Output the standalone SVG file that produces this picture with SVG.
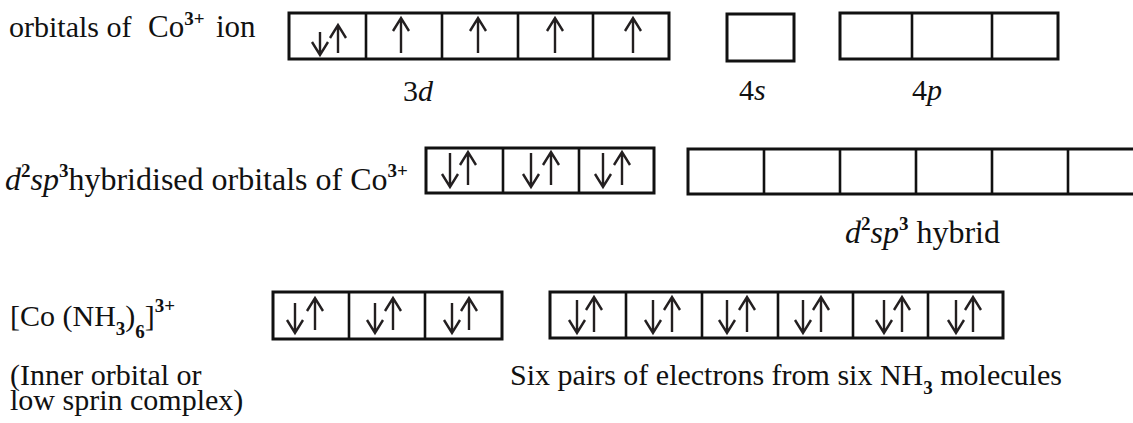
<svg xmlns="http://www.w3.org/2000/svg" width="1133" height="423" viewBox="0 0 1133 423">
<style>
.t{font-family:"Liberation Serif","Times New Roman",serif;font-size:30px;fill:#111}
.big{font-size:32px}
.i{font-style:italic}
.sup{font-size:19px;font-weight:bold}
.box{fill:none;stroke:#111;stroke-width:3}
.div{stroke:#111;stroke-width:2.6}
.arr{fill:none;stroke:#231f20;stroke-width:2.4;stroke-linejoin:miter;stroke-linecap:butt}
</style>
<rect width="1133" height="423" fill="#fff"/>

<g id="row1-label">
<text class="t" x="9" y="37" font-size="31">orbitals of</text>
<text class="t" x="148" y="37" style="font-size:31px">Co<tspan class="sup" dy="-12">3+</tspan></text>
<text class="t" x="216" y="37" style="font-size:31px">ion</text>
</g>

<g id="row1-3d">
<rect class="box" x="289" y="13" width="380" height="46"/>
<path class="div" d="M366,13V59M442,13V59M518,13V59M593,13V59"/>
<path class="arr" d="M320,32V54M312,42L320,55L328,42"/>
<path class="arr" d="M338,53V26M330,38L338,25L346,38"/>
<path class="arr" d="M401,53V19M393,31L401,18L409,31"/>
<path class="arr" d="M478,53V19M470,31L478,18L486,31"/>
<path class="arr" d="M555,53V19M547,31L555,18L563,31"/>
<path class="arr" d="M633,53V19M625,31L633,18L641,31"/>
<text class="t" x="403" y="101">3<tspan class="i">d</tspan></text>
</g>

<g id="row1-4s">
<rect class="box" x="727" y="14" width="67" height="47"/>
<text class="t" x="739" y="100">4<tspan class="i">s</tspan></text>
</g>

<g id="row1-4p">
<rect class="box" x="840" y="13" width="218" height="46"/>
<path class="div" d="M912,13V59M992,13V59"/>
<text class="t" x="912" y="100">4<tspan class="i">p</tspan></text>
</g>

<g id="row2-label">
<text class="t big" x="5" y="190"><tspan class="i">d</tspan><tspan class="sup" dy="-13">2</tspan><tspan class="i" dy="13">sp</tspan><tspan class="sup" dy="-13">3</tspan><tspan dy="13">hybridised orbitals of Co</tspan><tspan class="sup" dy="-13">3+</tspan></text>
</g>

<g id="row2-d">
<rect class="box" x="426" y="148" width="228" height="45"/>
<path class="div" d="M503,148V193M579,148V193"/>
<path class="arr" d="M450,153V186M442,174L450,187L458,174"/>
<path class="arr" d="M468,185V153M460,165L468,152L476,165"/>
<path class="arr" d="M531,153V186M523,174L531,187L539,174"/>
<path class="arr" d="M551,185V153M543,165L551,152L559,165"/>
<path class="arr" d="M603,153V186M595,174L603,187L611,174"/>
<path class="arr" d="M622,185V153M614,165L622,152L630,165"/>
</g>

<g id="row2-hybrid">
<rect class="box" x="688" y="149" width="460" height="45"/>
<path class="div" d="M764,149V194M840,149V194M916,149V194M992,149V194M1068,149V194"/>
<text class="t big" x="845" y="243"><tspan class="i">d</tspan><tspan class="sup" dy="-13">2</tspan><tspan class="i" dy="13">sp</tspan><tspan class="sup" dy="-13">3</tspan><tspan dy="13"> hybrid</tspan></text>
</g>

<g id="row3-label">
<text class="t" x="10" y="326">[Co (NH<tspan class="sup" dy="9">3</tspan><tspan dy="-9">)</tspan><tspan class="sup" dy="12">6</tspan><tspan dy="-12">]</tspan><tspan class="sup" dy="-14">3+</tspan></text>
</g>

<g id="row3-metal">
<rect class="box" x="273" y="292" width="229" height="47"/>
<path class="div" d="M349,292V339M425,292V339"/>
<path class="arr" d="M295,303V332M287,320L295,333L303,320"/>
<path class="arr" d="M315,330V299M307,311L315,298L323,311"/>
<path class="arr" d="M375,303V332M367,320L375,333L383,320"/>
<path class="arr" d="M393,330V299M385,311L393,298L401,311"/>
<path class="arr" d="M452,303V332M444,320L452,333L460,320"/>
<path class="arr" d="M469,330V299M461,311L469,298L477,311"/>
</g>

<g id="row3-ligand">
<rect class="box" x="550" y="292" width="453" height="46"/>
<path class="div" d="M626,292V338M702,292V338M778,292V338M853,292V338M928,292V338"/>
<path class="arr" d="M577,300V332M569,320L577,333L585,320"/>
<path class="arr" d="M594,332V298M586,310L594,297L602,310"/>
<path class="arr" d="M653,300V332M645,320L653,333L661,320"/>
<path class="arr" d="M672,332V298M664,310L672,297L680,310"/>
<path class="arr" d="M727,300V332M719,320L727,333L735,320"/>
<path class="arr" d="M747,332V298M739,310L747,297L755,310"/>
<path class="arr" d="M803,300V332M795,320L803,333L811,320"/>
<path class="arr" d="M821,332V298M813,310L821,297L829,310"/>
<path class="arr" d="M884,300V332M876,320L884,333L892,320"/>
<path class="arr" d="M902,332V298M894,310L902,297L910,310"/>
<path class="arr" d="M956,300V332M948,320L956,333L964,320"/>
<path class="arr" d="M973,332V298M965,310L973,297L981,310"/>
</g>

<g id="row3-notes">
<text class="t" x="10" y="385">(Inner orbital or</text>
<text class="t" x="10" y="410">low sprin complex)</text>
<text class="t" x="510" y="385">Six pairs of electrons from six NH<tspan class="sup" dy="9">3</tspan><tspan dy="-9"> molecules</tspan></text>
</g>
</svg>
